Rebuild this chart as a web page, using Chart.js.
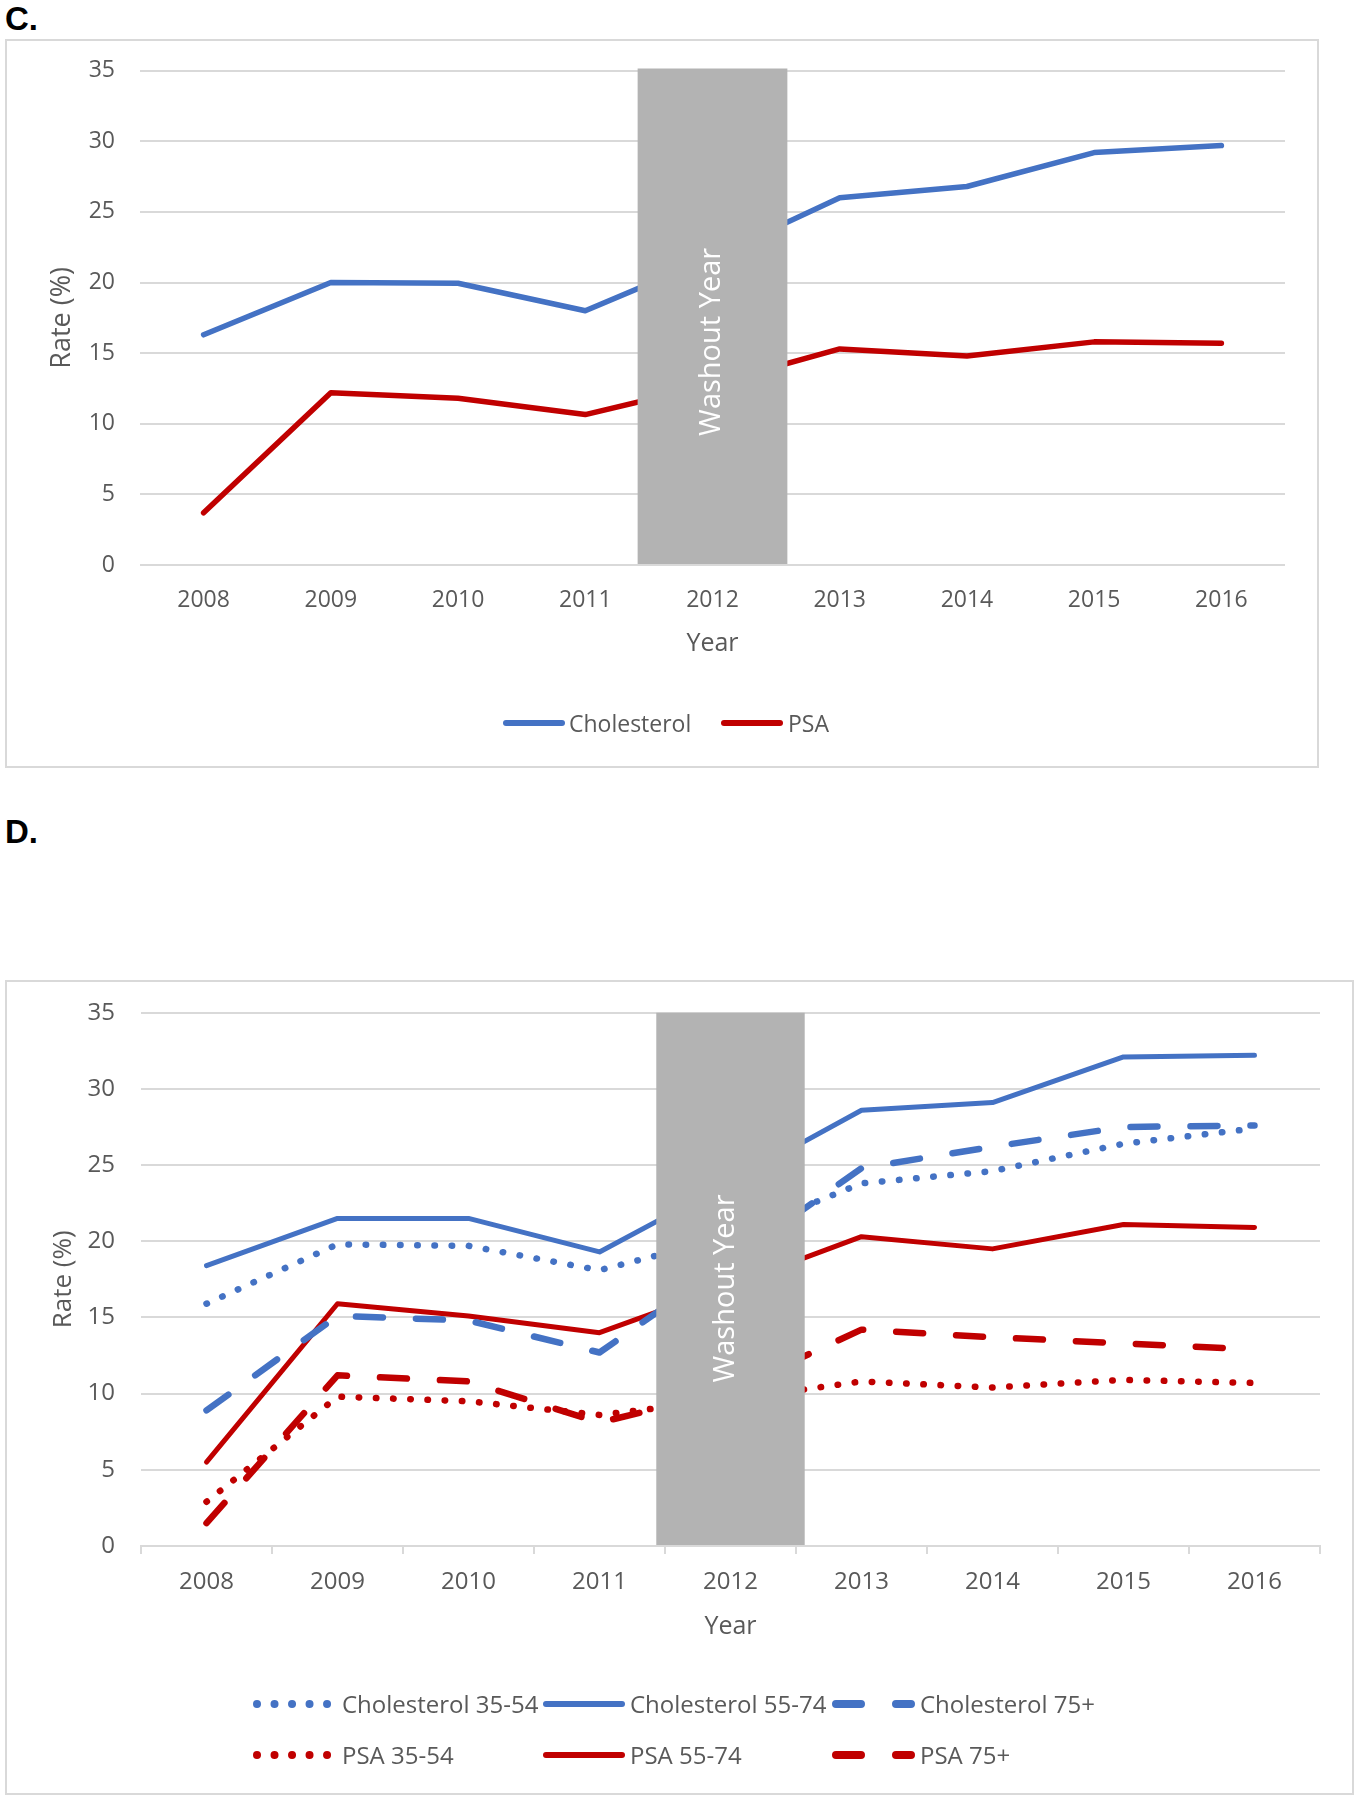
<!DOCTYPE html>
<html>
<head>
<meta charset="utf-8">
<script src="https://cdn.jsdelivr.net/npm/chart.js@4.4.0/dist/chart.umd.min.js"></script>
<style>
  body{margin:0;background:#fff;width:1359px;height:1800px;position:relative;overflow:hidden;font-family:'Open Sans',sans-serif;color:#595959}
  .panel-label{position:absolute;left:5px;font:bold 33px 'Liberation Sans',Arial,sans-serif;line-height:33px;color:#000}
  .frame{position:absolute;box-sizing:border-box;border:2px solid #d9d9d9}
  .plot{position:absolute}
  .leg{position:absolute;height:40px;line-height:40px;white-space:nowrap;color:#595959}
  #legendLines{position:absolute;left:0;top:0;pointer-events:none}
</style>
</head>
<body>
<div class="panel-label" style="top:2px">C.</div>
<div class="frame" style="left:5px;top:39px;width:1314px;height:729px"></div>
<div class="plot" style="left:6px;top:40px;width:1312px;height:727px"><canvas id="chartC"></canvas></div>

<div class="panel-label" style="top:815px">D.</div>
<div class="frame" style="left:5px;top:980px;width:1349px;height:815px"></div>
<div class="plot" style="left:6px;top:981px;width:1347px;height:813px"><canvas id="chartD"></canvas></div>

<svg id="legendLines" width="1359" height="1800"></svg>
<div id="legends"></div>

<script>
// shared axis
const years = ['2008','2009','2010','2011','2012','2013','2014','2015','2016'];
const yMin = 0, yMax = 35, yStep = 5;

// panel C
const cholesterolC = [16.3, 20.0, 19.95, 18.0, 21.8, 26.0, 26.8, 29.2, 29.7];
const psaC         = [3.7, 12.2, 11.8, 10.65, 12.8, 15.3, 14.8, 15.8, 15.7];
const washoutC     = [null, null, null, null, 35.15, null, null, null, null];

// panel D
const chol3554 = [15.9, 19.8, 19.7, 18.1, 20.3, 23.8, 24.6, 26.4, 27.4];
const chol5574 = [18.4, 21.5, 21.5, 19.3, 23.9, 28.6, 29.1, 32.1, 32.2];
const chol75   = [8.9, 15.1, 14.8, 12.7, 18.7, 24.8, 26.2, 27.5, 27.6];
const psa3554  = [2.9, 9.8, 9.5, 8.6, 9.6, 10.8, 10.4, 10.9, 10.7];
const psa5574  = [5.5, 15.9, 15.1, 14.0, 17.1, 20.3, 19.5, 21.1, 20.9];
const psa75    = [1.5, 11.2, 10.8, 8.1, 10.2, 14.2, 13.7, 13.3, 12.9];
const washoutD = [null, null, null, null, 35, null, null, null, null];

const washoutText = 'Washout Year';
const BLUE = '#4472c4', RED = '#c00000', GREY = '#b3b3b3', GRID = '#d9d9d9', TXT = '#595959';

Chart.defaults.font.family = "'Open Sans', sans-serif";
Chart.defaults.color = TXT;

const DASH = {solid: [], dot: [0.5, 16.7], dash: [27, 33]};

function lineSet(label, data, color, kind, w) {
  return {type:'line', label, data, borderColor:color, backgroundColor:color, borderWidth:w,
    borderDash:DASH[kind], borderCapStyle:'round', borderJoinStyle:'round',
    pointRadius:0, pointHoverRadius:0, tension:0, fill:false, order:1};
}
function washoutSet(data, pct) {
  return {type:'bar', label:washoutText, data, backgroundColor:GREY, borderWidth:0,
    barPercentage:pct, categoryPercentage:1, order:0, clip:false};
}

// white vertical text on the washout bar
const washoutLabel = {
  id:'washoutLabel',
  afterDatasetsDraw(chart, args, o) {
    const {ctx, scales:{x, y}} = chart;
    ctx.save();
    ctx.translate(x.getPixelForValue(o.index) + o.dx, y.getPixelForValue(o.value));
    ctx.rotate(-Math.PI / 2);
    ctx.font = "29px 'Open Sans'";
    ctx.fillStyle = '#fff';
    ctx.textAlign = 'center';
    ctx.textBaseline = 'middle';
    ctx.fillText(washoutText, 0, 0);
    ctx.restore();
  }
};

function makeChart(id, datasets, c) {
  return new Chart(document.getElementById(id), {
    type:'line',
    data:{labels:years, datasets},
    plugins:[washoutLabel],
    options:{
      responsive:true, maintainAspectRatio:false, animation:false,
      layout:{padding:c.pad},
      plugins:{legend:{display:false}, tooltip:{enabled:false},
        washoutLabel:{index:4, value:c.textValue, dx:c.textDx}},
      scales:{
        x:{
          offset:true,
          grid:c.xGrid,
          border:c.xBorder,
          ticks:{font:{size:c.tickFont}, padding:c.xLabelPad, color:TXT, maxRotation:0},
          title:{display:true, text:'Year', font:{size:25}, color:TXT, padding:{top:0, bottom:0}},
          afterFit:s => { s.height = c.xHeight; }
        },
        y:{
          min:yMin, max:yMax,
          ticks:{stepSize:yStep, font:{size:c.tickFont}, padding:0, color:TXT},
          // invisible tick marks give the label gap without inflating the top padding
          grid:{color:GRID, lineWidth:2, drawTicks:true, tickLength:c.yTickGap, tickColor:'rgba(0,0,0,0)'},
          border:{display:false},
          title:{display:true, text:'Rate (%)', font:{size:c.yTitleFont}, color:TXT, padding:{top:c.yTitlePad, bottom:0}},
          afterFit:s => { s.width = c.yWidth; }
        }
      }
    }
  });
}

makeChart('chartC', [
  washoutSet(washoutC, 1.177),
  lineSet('Cholesterol', cholesterolC, BLUE, 'solid', 5.5),
  lineSet('PSA', psaC, RED, 'solid', 5.5)
], {
  pad:{left:0, right:33, top:30.7, bottom:108},
  xGrid:{display:false, drawTicks:false}, xBorder:{display:false},
  tickFont:23, xLabelPad:21.5, xHeight:94,
  yTickGap:25, yWidth:134, yTitleFont:27, yTitlePad:40.5,
  textValue:15.8, textDx:-1
});

makeChart('chartD', [
  washoutSet(washoutD, 1.133),
  lineSet('Cholesterol 35-54', chol3554, BLUE, 'dot', 6.5),
  lineSet('Cholesterol 55-74', chol5574, BLUE, 'solid', 5),
  lineSet('Cholesterol 75+', chol75, BLUE, 'dash', 6.5),
  lineSet('PSA 35-54', psa3554, RED, 'dot', 6.5),
  lineSet('PSA 55-74', psa5574, RED, 'solid', 5),
  lineSet('PSA 75+', psa75, RED, 'dash', 6.5)
], {
  pad:{left:0, right:33, top:31.7, bottom:152.3},
  xGrid:{display:true, drawOnChartArea:false, drawTicks:true, tickLength:8, color:GRID, lineWidth:2, offset:true},
  xBorder:{display:true, color:GRID, width:2},
  tickFont:24, xLabelPad:13.3, xHeight:95.7,
  yTickGap:26, yWidth:135, yTitleFont:26, yTitlePad:42.4,
  textValue:16.9, textDx:-5
});

// legends (column layout like the original)
const svgNS = 'http://www.w3.org/2000/svg';
const svg = document.getElementById('legendLines');
const legendBox = document.getElementById('legends');
const SAMPLE = {solid:{w:6, da:''}, dot:{w:8, da:'0.01 17.5'}, dash:{w:8, da:'25 35'}};

function legendItem(label, color, kind, x1, x2, tx, cy, size) {
  const ln = document.createElementNS(svgNS, 'line');
  ln.setAttribute('x1', x1); ln.setAttribute('x2', x2);
  ln.setAttribute('y1', cy); ln.setAttribute('y2', cy);
  ln.setAttribute('stroke', color);
  ln.setAttribute('stroke-width', SAMPLE[kind].w);
  ln.setAttribute('stroke-linecap', 'round');
  if (SAMPLE[kind].da) ln.setAttribute('stroke-dasharray', SAMPLE[kind].da);
  svg.appendChild(ln);
  const t = document.createElement('div');
  t.className = 'leg';
  t.style.left = tx + 'px';
  t.style.top = (cy - 20) + 'px';
  t.style.fontSize = size + 'px';
  t.textContent = label;
  legendBox.appendChild(t);
}

legendItem('Cholesterol', BLUE, 'solid', 506, 562, 569, 723, 23);
legendItem('PSA', RED, 'solid', 724, 780, 788, 723, 23);

const colsD = [{x1:257, x2:327.5, tx:342}, {x1:546, x2:622, tx:630}, {x1:836, x2:911, tx:920}];
const kindsD = ['dot', 'solid', 'dash'];
[['Cholesterol 35-54','Cholesterol 55-74','Cholesterol 75+'], ['PSA 35-54','PSA 55-74','PSA 75+']]
  .forEach((row, r) => row.forEach((label, i) => {
    const col = colsD[i];
    legendItem(label, r === 0 ? BLUE : RED, kindsD[i], col.x1, col.x2, col.tx, r === 0 ? 1704 : 1755, 24);
  }));
</script>
</body>
</html>
